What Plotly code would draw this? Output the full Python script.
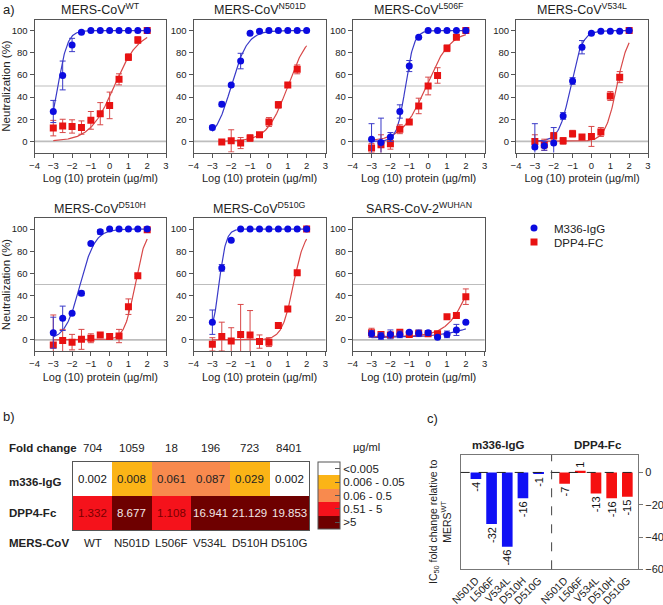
import numpy as np
import plotly.graph_objects as go

W, H = 663, 605
FONT = "Liberation Sans, Arial, sans-serif"

# ---------------- data: panel a ----------------
doses = [-3, -2.5, -2, -1.5, -1, -0.5, 0, 0.5, 1, 1.5, 2]
panel_titles = ["MERS-CoV<sup>WT</sup>", "MERS-CoV<sup>N501D</sup>", "MERS-CoV<sup>L506F</sup>",
                "MERS-CoV<sup>V534L</sup>", "MERS-CoV<sup>D510H</sup>", "MERS-CoV<sup>D510G</sup>",
                "SARS-CoV-2<sup>WUHAN</sup>"]

m336_wt = [27, 59.5, 87, 98.5, 100, 100, 100, 100, 100, 100, 100]
m336_wt_err = [10, 13, 6, 1, 0, 0, 0, 0, 0, 0, 0]
dpp4_wt = [12, 14, 13.5, 12.5, 19, 25, 32.5, 56, 76, 91.5, 100]
dpp4_wt_err = [7, 6, 6, 6, 8, 10, 12, 5, 3, 3, 1]

m336_n501d = [12.5, 33.5, 51, 72.5, 97.5, 99.5, 100, 100, 100, 100, 100]
m336_n501d_err = [2, 2, 1, 7, 1, 1, 0, 0, 0, 0, 0]
dpp4_n501d = [None, -0.5, 0.5, -1.5, 3, 6, 17.5, 33, 51, 65, None]
dpp4_n501d_err = [0, 1, 10, 5, 3, 1, 4, 3, 1, 4, 0]

m336_l506f = [2, -1, 4, 27, 68, 94, 100, 100, 100, 100, 100]
m336_l506f_err = [14, 22, 4, 6, 5, 1, 0, 0, 0, 0, 0]
dpp4_l506f = [-6, -3, -2, 11, 17.5, 32, 50, 59.5, 84, 94, 100]
dpp4_l506f_err = [4, 9, 5, 4, 1, 7, 8, 7, 3, 1, 0]

m336_v534l = [-5, -4, -1.5, 23, 54.5, 85, 97.5, 99.5, 99.5, 99.5, 100]
m336_v534l_err = [21, 4, 14, 3, 3, 6, 1, 0, 0, 0, 0]
dpp4_v534l = [0, -3, 5, 0.5, 7, 4, 4.5, 8.5, 41, 58, 100]
dpp4_v534l_err = [6, 5, 3, 3, 3, 1, 9, 4, 4, 5, 0]

m336_d510h = [6.5, 19.5, 24, 42, 87, 97.5, 100, 100, 100, 100, 100]
m336_d510h_err = [14, 11, 1, 2, 1, 2, 0, 0, 0, 0, 0]
dpp4_d510h = [-4.5, -0.5, -2, 0.5, 1.5, 4.5, 3, 3.5, 30, 58, 99.5]
dpp4_d510h_err = [27, 10, 7, 9, 4, 1, 2, 6, 7, 1, 0]

m336_d510g = [16, 65, 90, 100, 100, 100, 100, 100, 100, 100, 100]
m336_d510g_err = [11, 3, 1, 0, 0, 0, 0, 0, 0, 0, 0]
dpp4_d510g = [-4, 3, -1, 5, 4.5, -1.5, -2, 13, 28, 60.5, 100]
dpp4_d510g_err = [6, 13, 12, 27, 22, 6, 4, 1, 1, 1, 0]

m336_sars2 = [5.5, 3.5, 5, 5, 7, 6, 6.5, 2.5, 5, 9, 16]
m336_sars2_err = [3, 3, 4, 3, 1, 3, 2, 1, 3, 5, 1]
dpp4_sars2 = [6.5, 5, 4.5, 7, 5, 6, 5.5, 5.5, 21, 22, 39]
dpp4_sars2_err = [4, 2, 1, 1, 1, 1, 1, 1, 1, 1, 7]

# fitted 4PL parameters: (bottom, top, logIC50, hill, start x)
m336_fit = [(0, 100, -2.75, 1.7, -3), (0, 100, -2.0, 1.0, -3), (0, 100, -1.2, 1.9, -3),
            (0, 100, -1.1, 1.42, -3), (0, 100, -1.57, 1.1, -3), (0, 100, -2.65, 2.3, -3),
            (2, 100, 5.0, 0.35, -3)]
dpp4_fit = [(0, 100, 0.25, 0.67, -3), (0, 100, 1.0, 0.8, -2.5), (0, 100, -0.1, 0.68, -3),
            (0, 100, 1.35, 1.4, -3), (0, 100, 1.35, 1.55, -3), (0, 100, 1.3, 1.43, -3),
            (3, 100, 2.3, 0.7, -3)]

m336_sets = [(m336_wt, m336_wt_err), (m336_n501d, m336_n501d_err), (m336_l506f, m336_l506f_err),
             (m336_v534l, m336_v534l_err), (m336_d510h, m336_d510h_err), (m336_d510g, m336_d510g_err),
             (m336_sars2, m336_sars2_err)]
dpp4_sets = [(dpp4_wt, dpp4_wt_err), (dpp4_n501d, dpp4_n501d_err), (dpp4_l506f, dpp4_l506f_err),
             (dpp4_v534l, dpp4_v534l_err), (dpp4_d510h, dpp4_d510h_err), (dpp4_d510g, dpp4_d510g_err),
             (dpp4_sars2, dpp4_sars2_err)]

# ---------------- data: panel b ----------------
variants = ["WT", "N501D", "L506F", "V534L", "D510H", "D510G"]
fold_change = ["704", "1059", "18", "196", "723", "8401"]
ic50_m336 = [0.002, 0.008, 0.061, 0.087, 0.029, 0.002]
ic50_dpp4 = [1.332, 8.677, 1.108, 16.941, 21.129, 19.853]
ic50_text_m336 = ["0.002", "0.008", "0.061", "0.087", "0.029", "0.002"]
ic50_text_dpp4 = ["1.332", "8.677", "1.108", "16.941", "21.129", "19.853"]
bin_edges = [0.0055, 0.055, 0.505, 5.0]
bin_labels = ["<0.005", "0.006 - 0.05", "0.06 - 0.5", "0.51 - 5", ">5"]
bin_colors = ["#FFFFFF", "#FBB417", "#F88A4E", "#F5121B", "#6E0000"]
bin_text_colors = ["#111111", "#222222", "#222222", "#7A0000", "#F2E6E6"]

# ---------------- data: panel c ----------------
mutants = ["N501D", "L506F", "V534L", "D510H", "D510G"]
fold_m336 = [-4, -32, -46, -16, -1]
fold_dpp4 = [-7, 1, -13, -16, -15]

# ---------------- helpers ----------------
def fx(p):
    return p / W

def fy(p):
    return 1 - p / H

def ax_id(n):
    return ("x" if n == 1 else f"x{n}"), ("y" if n == 1 else f"y{n}")

BLUE = "#0B0BE0"
RED = "#E81212"
BLUE_L = "#3A3AC8"
RED_L = "#D84848"
AX = "#555555"

fig = go.Figure()
layout = dict(width=W, height=H, margin=dict(l=0, r=0, t=0, b=0, autoexpand=False),
              paper_bgcolor="white", plot_bgcolor="white",
              font=dict(family=FONT, color="#222222"), showlegend=True)
annotations = []
shapes = []

def note(text, px, py, size=11.5, xanchor="center", **kw):
    annotations.append(dict(text=text, xref="paper", yref="paper", x=fx(px), y=fy(py),
                            xanchor=xanchor, yanchor="middle", showarrow=False,
                            font=dict(size=size), **kw))

boxes = [(34.5, 166, 19.5, 152.5), (193.5, 325.5, 19.5, 152.5), (352.7, 484.7, 19.5, 152.5),
         (516, 648, 19.5, 152.5), (34.5, 166, 218, 351), (193.5, 325.5, 218, 351),
         (352.7, 484.7, 218, 351)]

curve_x = np.linspace(-3, 2, 200)
for i, (x0, x1, y0, y1) in enumerate(boxes):
    n = i + 1
    xa, ya = ax_id(n)
    xk = "xaxis" if n == 1 else f"xaxis{n}"
    yk = "yaxis" if n == 1 else f"yaxis{n}"
    layout[xk] = dict(domain=[fx(x0), fx(x1)], anchor=ya, range=[-4, 3], tickvals=list(range(-4, 4)),
                      ticks="outside", ticklen=4, tickcolor=AX, showline=True, mirror=True,
                      linecolor=AX, linewidth=1, showgrid=False, zeroline=False, automargin=False,
                      tickfont=dict(size=9.5, color="#222"),
                      title=dict(text="Log (10) protein (µg/ml)", font=dict(size=11), standoff=4))
    yt = dict(text="Neutralization (%)", font=dict(size=11.5), standoff=2) if n in (1, 5) else None
    layout[yk] = dict(domain=[fy(y1), fy(y0)], anchor=xa, range=[-10, 110], automargin=False,
                      tickvals=[0, 20, 40, 60, 80, 100], ticks="outside", ticklen=4, tickcolor=AX,
                      showline=True, mirror=True, linecolor=AX, linewidth=1, showgrid=False,
                      zeroline=False, tickfont=dict(size=9.5, color="#222"), title=yt)
    for yv, wd in ((0, 1.6), (50, 1.0)):
        shapes.append(dict(type="line", xref=f"{xa} domain", yref=ya, x0=0, x1=1, y0=yv, y1=yv,
                           line=dict(color="#BDBDBD", width=wd), layer="below"))
    note(panel_titles[i], (x0 + x1) / 2, y0 - 10, size=12.5)
    # fitted curves
    for fit, col in ((dpp4_fit[i], RED_L), (m336_fit[i], BLUE_L)):
        b, t, L, h, xs = fit
        cx = curve_x[curve_x >= xs]
        cy = b + (t - b) / (1 + 10 ** ((L - cx) * h))
        fig.add_trace(go.Scatter(x=cx, y=cy, mode="lines", line=dict(color=col, width=1.2),
                                 xaxis=xa, yaxis=ya, showlegend=False, hoverinfo="skip"))
    # data points
    rv, re = dpp4_sets[i]
    bv, be = m336_sets[i]
    fig.add_trace(go.Scatter(x=doses, y=rv, mode="markers", name="DPP4-FC", legend="legend2",
                             marker=dict(symbol="square", size=7, color=RED),
                             error_y=dict(type="data", array=re, color=RED_L, thickness=1, width=3),
                             xaxis=xa, yaxis=ya, showlegend=(n == 1)))
    fig.add_trace(go.Scatter(x=doses, y=bv, mode="markers", name="M336-IgG", legend="legend",
                             marker=dict(symbol="circle", size=7, color=BLUE),
                             error_y=dict(type="data", array=be, color=BLUE_L, thickness=1, width=3),
                             xaxis=xa, yaxis=ya, showlegend=(n == 1)))

leg = dict(xanchor="left", yanchor="top", font=dict(size=11.5), bgcolor="rgba(0,0,0,0)")
layout["legend"] = dict(x=fx(514), y=fy(213.5), **leg)
layout["legend2"] = dict(x=fx(514), y=fy(227.5), **leg)

note("a)", 1, 10, size=13, xanchor="left")

# ---------------- panel b: heatmap ----------------
rows = ["m336-IgG", "DPP4-Fc"]
vals = [ic50_m336, ic50_dpp4]
txts = [ic50_text_m336, ic50_text_dpp4]
cats = [[int(c) for c in np.digitize(v, bin_edges)] for v in vals]
z = [[-c for c in r] for r in cats]
cs = []
nb = len(bin_colors)
for k, col in enumerate(reversed(bin_colors)):
    cs.append([k / nb, col])
    cs.append([(k + 1) / nb, col])
fig.add_trace(go.Heatmap(x=variants, y=rows, z=z, zmin=-nb + 0.5, zmax=0.5, colorscale=cs,
                         xaxis="x8", yaxis="y8", hoverinfo="skip", showscale=True,
                         colorbar=dict(x=fx(318), xanchor="left", y=fy(495.5), yanchor="middle",
                                       thickness=22, thicknessmode="pixels", len=67, lenmode="pixels",
                                       tickvals=[-k for k in range(nb)], ticktext=bin_labels,
                                       ticks="inside", ticklen=5, tickcolor=AX, outlinecolor=AX,
                                       outlinewidth=1, tickfont=dict(size=11.5, color="#222"),
                                       xpad=0, ypad=0)))
layout["xaxis8"] = dict(domain=[fx(73), fx(309)], anchor="y8", showticklabels=False, ticks="",
                        showline=True, mirror=True, linecolor=AX, linewidth=1.2, showgrid=False,
                        zeroline=False, automargin=False)
layout["yaxis8"] = dict(domain=[fy(530), fy(462)], anchor="x8", showticklabels=False, ticks="",
                        autorange="reversed", showline=True, mirror=True, linecolor=AX, linewidth=1.2,
                        showgrid=False, zeroline=False, automargin=False)
for r, rname in enumerate(rows):
    for c, v in enumerate(variants):
        annotations.append(dict(text=txts[r][c], x=v, y=rname, xref="x8", yref="y8", showarrow=False,
                                xanchor="center", yanchor="middle",
                                font=dict(size=11.5, color=bin_text_colors[cats[r][c]])))
for c, v in enumerate(variants):
    annotations.append(dict(text=fold_change[c], x=v, y=fy(448), xref="x8", yref="paper",
                            showarrow=False, xanchor="center", yanchor="middle", font=dict(size=11.5)))
    annotations.append(dict(text=v, x=v, y=fy(543), xref="x8", yref="paper",
                            showarrow=False, xanchor="center", yanchor="middle", font=dict(size=11.5)))
for lbl, py in (("Fold change", 448), ("m336-IgG", 482), ("DPP4-Fc", 513), ("MERS-CoV", 543)):
    note(f"<b>{lbl}</b>", 7, py, xanchor="left")
note("µg/ml", 351, 447, size=11, xanchor="left")
note("b)", 1, 417, size=13, xanchor="left")

# ---------------- panel c: bars ----------------
gap = 1.66
pos_m336 = [k for k in range(len(mutants))]
pos_dpp4 = [k + len(mutants) - 1 + gap for k in range(len(mutants))]
for pos, vals_, col in ((pos_m336, fold_m336, "#1010F5"), (pos_dpp4, fold_dpp4, "#F51010")):
    fig.add_trace(go.Bar(x=pos, y=vals_, text=[str(v) for v in vals_], textposition="outside",
                         textangle=-90, constraintext="none", textfont=dict(size=11, color="#111"),
                         marker=dict(color=col, line=dict(width=0)),
                         width=0.68, xaxis="x9", yaxis="y9", showlegend=False, cliponaxis=False,
                         hoverinfo="skip"))
layout["xaxis9"] = dict(domain=[fx(460.7), fx(638)], anchor="y9", range=[-0.97, pos_dpp4[-1] + 0.68],
                        tickvals=pos_m336 + pos_dpp4, ticktext=mutants + mutants, tickangle=-45,
                        ticks="", showline=True, mirror=True, linecolor="#777", linewidth=1.2,
                        showgrid=False, zeroline=False, tickfont=dict(size=10.5, color="#222"),
                        automargin=False)
layout["yaxis9"] = dict(domain=[fy(569.3), fy(455)], anchor="x9", side="right", range=[-60, 10.8],
                        tickvals=[0, -20, -40, -60], ticks="outside", ticklen=4, tickcolor="#777",
                        showline=True, mirror=True, linecolor="#777", linewidth=1.2, showgrid=False,
                        zeroline=False, tickfont=dict(size=11, color="#222"), automargin=False)
shapes.append(dict(type="line", xref="x9 domain", yref="y9", x0=0, x1=1, y0=0, y1=0,
                   line=dict(color="#222", width=1, dash="dash")))
mid = (pos_m336[-1] + pos_dpp4[0]) / 2
shapes.append(dict(type="line", xref="x9", yref="y9 domain", x0=mid, x1=mid, y0=0, y1=1,
                   line=dict(color="#444", width=1, dash="dash")))
note("<b>m336-IgG</b>", 498, 445)
note("<b>DPP4-Fc</b>", 598, 445)
note("IC<sub>50</sub> fold change relative to<br>MERS<sup>WT</sup>", 440, 522, size=10.5, textangle=-90)
note("c)", 425, 418, size=13, xanchor="left")

layout["annotations"] = annotations
layout["shapes"] = shapes
fig.update_layout(**layout)
fig.write_html("out.html", config={"displayModeBar": False},
               post_script="document.body.style.margin='0px';")
